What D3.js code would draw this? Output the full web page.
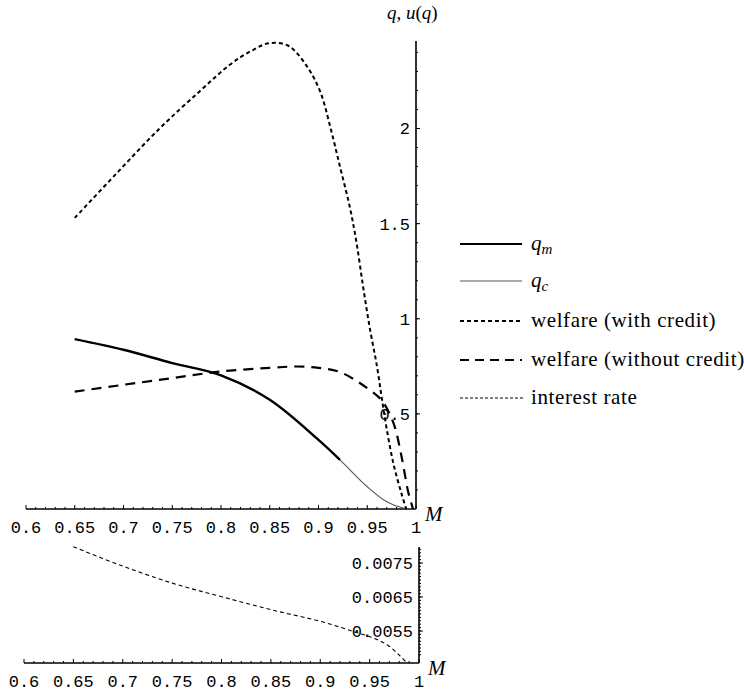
<!DOCTYPE html>
<html><head><meta charset="utf-8">
<script src="https://cdn.jsdelivr.net/npm/d3@7"></script>
<style>body{margin:0;background:#fff}svg{display:block}</style>
</head><body>
<svg id="c" width="744" height="693"></svg>
<script>
// ---- data ----
const xTicks = [0.6, 0.65, 0.7, 0.75, 0.8, 0.85, 0.9, 0.95, 1];
const xTickLabels = ["0.6","0.65","0.7","0.75","0.8","0.85","0.9","0.95","1"];
const yTicksTop = [0.5, 1, 1.5, 2];
const yTickLabelsTop = ["0.5","1","1.5","2"];
const yTicksBottom = [0.0055, 0.0065, 0.0075];
const yTickLabelsBottom = ["0.0055","0.0065","0.0075"];

const mQ = [0.65, 0.70, 0.75, 0.80, 0.85, 0.90, 0.922, 0.95, 0.97, 0.987, 1.0];
const qm = [0.893, 0.837, 0.767, 0.703, 0.574, 0.363, 0.258, 0.117, 0.038, 0.005, 0];
const mQmEnd = 0.922;
const qc = qm;

const mWc = [0.65, 0.693, 0.737, 0.778, 0.809, 0.83, 0.849, 0.869, 0.888, 0.902, 0.912, 0.922, 0.932, 0.939, 0.946, 0.953, 0.96, 0.965, 0.97, 0.977, 0.985, 0.99];
const welfareCredit = [1.53, 1.765, 2.0, 2.195, 2.335, 2.405, 2.448, 2.435, 2.328, 2.19, 2.01, 1.80, 1.59, 1.40, 1.16, 0.94, 0.749, 0.58, 0.42, 0.235, 0.083, 0];

const mWn = [0.65, 0.70, 0.75, 0.80, 0.85, 0.878, 0.90, 0.922, 0.95, 0.965, 0.977, 0.985, 0.992, 0.997];
const welfareNoCredit = [0.617, 0.653, 0.688, 0.723, 0.742, 0.749, 0.742, 0.72, 0.635, 0.57, 0.45, 0.28, 0.09, 0];

const mR = [0.65, 0.697, 0.751, 0.80, 0.851, 0.902, 0.934, 0.954, 0.968, 0.98, 0.988];
const interestRate = [0.00798, 0.00744, 0.0069, 0.00651, 0.00612, 0.00577, 0.00548, 0.00529, 0.00509, 0.00479, 0.00455];

const legendItems = ["q_m", "q_c", "welfare (with credit)", "welfare (without credit)", "interest rate"];

// ---- drawing ----
const svg = d3.select("#c");
const mono = "'Liberation Mono', 'Courier New', monospace";
const serif = "'Liberation Serif', 'Times New Roman', serif";

const xTop = d3.scaleLinear().domain([0.6, 1]).range([26, 416]);
const yTop = d3.scaleLinear().domain([0, 2.46]).range([509, 41]);
const xBot = d3.scaleLinear().domain([0.6, 1]).range([24, 419]);
const yBot = d3.scaleLinear().domain([0.0055 - 32/34000, 0.0055 + 84/34000]).range([663, 547]);

function axes(x, y, yTicks, yLabels, yMinor) {
  const g = svg.append("g");
  const x0 = x.range()[0], x1 = x.range()[1];
  const y0 = y.range()[0], y1 = y.range()[1];
  g.append("line").attr("x1", x0).attr("x2", x1).attr("y1", y0).attr("y2", y0)
    .attr("stroke", "#000").attr("stroke-width", 1.6);
  g.append("line").attr("x1", x1).attr("x2", x1).attr("y1", y0).attr("y2", y1)
    .attr("stroke", "#000").attr("stroke-width", 1.6);
  const minor = d3.range(60, 101).map(d => d / 100);
  g.selectAll(null).data(minor).join("line")
    .attr("x1", d => x(d)).attr("x2", d => x(d))
    .attr("y1", y0).attr("y2", d => (Math.round(d*100) % 5 === 0) ? y0 - 4 : y0 - 2)
    .attr("stroke", "#000").attr("stroke-width", 1);
  g.selectAll(null).data(xTicks).join("text")
    .attr("x", d => x(d)).attr("y", y0 + 24)
    .attr("text-anchor", "middle")
    .attr("font-family", mono).attr("font-size", 17)
    .text((d, i) => xTickLabels[i]);
  g.selectAll(null).data(yMinor).join("line")
    .attr("x1", x1).attr("x2", x1 + 2)
    .attr("y1", d => y(d)).attr("y2", d => y(d))
    .attr("stroke", "#000").attr("stroke-width", 1);
  g.selectAll(null).data(yTicks).join("line")
    .attr("x1", x1).attr("x2", x1 + 4)
    .attr("y1", d => y(d)).attr("y2", d => y(d))
    .attr("stroke", "#000").attr("stroke-width", 1);
  g.selectAll(null).data(yTicks).join("text")
    .attr("x", x1 - 6).attr("y", d => y(d)).attr("dy", "0.35em")
    .attr("text-anchor", "end")
    .attr("font-family", mono).attr("font-size", 17)
    .text((d, i) => yLabels[i]);
  g.append("text").attr("x", x1 + 9).attr("y", y0 + 12)
    .attr("font-family", serif).attr("font-style", "italic").attr("font-size", 21)
    .text("M");
}

axes(xTop, yTop, yTicksTop, yTickLabelsTop, d3.range(1, 25).map(d => d / 10));
axes(xBot, yBot, yTicksBottom, yTickLabelsBottom, d3.range(48, 80).map(d => d / 10000));

const lab = svg.append("text").attr("x", 387).attr("y", 19)
  .attr("font-family", serif).attr("font-size", 19).attr("font-style", "italic");
lab.append("tspan").text("q");
lab.append("tspan").attr("font-style", "normal").text(", ");
lab.append("tspan").text("u");
lab.append("tspan").attr("font-style", "normal").text("(");
lab.append("tspan").text("q");
lab.append("tspan").attr("font-style", "normal").text(")");

const curve = d3.curveCatmullRom.alpha(0.5);
function lineTop(ms, vs) {
  return d3.line().x((d, i) => xTop(ms[i])).y(d => yTop(d)).curve(curve)(vs);
}

svg.append("path").attr("d", lineTop(mQ, qc))
  .attr("fill", "none").attr("stroke", "#555").attr("stroke-width", 1.1);
const qmIdx = mQ.filter(m => m <= mQmEnd).length;
svg.append("path").attr("d", lineTop(mQ.slice(0, qmIdx), qm.slice(0, qmIdx)))
  .attr("fill", "none").attr("stroke", "#000").attr("stroke-width", 2.4);
svg.append("path").attr("d", lineTop(mWc, welfareCredit))
  .attr("fill", "none").attr("stroke", "#000").attr("stroke-width", 2).attr("stroke-dasharray", "4,3");
svg.append("path").attr("d", lineTop(mWn, welfareNoCredit))
  .attr("fill", "none").attr("stroke", "#000").attr("stroke-width", 2.2).attr("stroke-dasharray", "10,7");
svg.append("path")
  .attr("d", d3.line().x((d, i) => xBot(mR[i])).y(d => yBot(d)).curve(curve)(interestRate))
  .attr("fill", "none").attr("stroke", "#000").attr("stroke-width", 1.1).attr("stroke-dasharray", "4,3");

const legStyles = [
  {w: 2.2, c: "#000", dash: null, x2: 522},
  {w: 1.1, c: "#555", dash: null, x2: 522},
  {w: 2, c: "#000", dash: "4,3", x2: 522},
  {w: 2.2, c: "#000", dash: "9,6", x2: 522},
  {w: 1, c: "#000", dash: "3,2", x2: 525}
];
const legY = [244, 281, 321, 360, 398];
const leg = svg.append("g");
legendItems.forEach((t, i) => {
  const s = legStyles[i];
  leg.append("line").attr("x1", 460).attr("x2", s.x2).attr("y1", legY[i]).attr("y2", legY[i])
    .attr("stroke", s.c).attr("stroke-width", s.w).attr("stroke-dasharray", s.dash);
  const tx = leg.append("text").attr("x", 531).attr("y", legY[i]).attr("dy", "0.3em")
    .attr("font-family", serif).attr("font-size", 21);
  if (t.startsWith("q_")) {
    tx.append("tspan").attr("font-style", "italic").text("q");
    tx.append("tspan").attr("font-style", "italic").attr("font-size", 15).attr("dy", 4).text(t.slice(2));
  } else {
    tx.attr("letter-spacing", 0.6).text(t);
  }
});
</script>
</body></html>
